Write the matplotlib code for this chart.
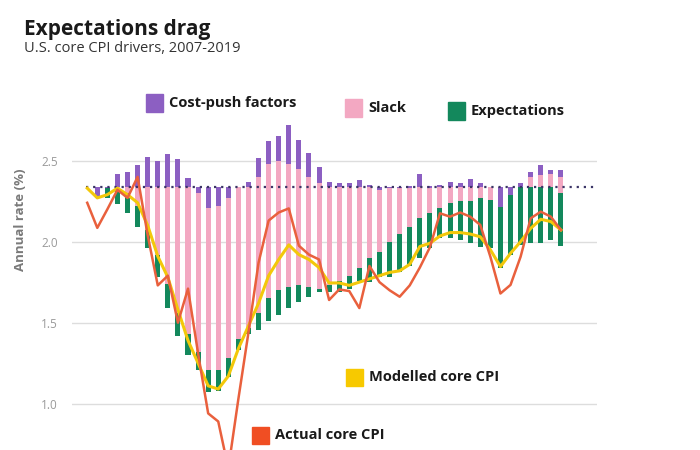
import numpy as np
import matplotlib
matplotlib.use("Agg")
import matplotlib.pyplot as plt
from matplotlib.patches import Rectangle

plt.rcParams['font.family'] = ['Open Sans', 'DejaVu Sans']

# quarterly bars, 2007-2018
baseline = 2.34

# stacked drivers: green (expectations) at bottom, pink (slack), purple (cost-push) on top
stack_bottom = [2.34, 2.27, 2.27, 2.23, 2.175, 2.09, 1.96, 1.78, 1.59, 1.42, 1.30, 1.21,
                1.075, 1.08, 1.165, 1.33, 1.43, 1.455, 1.51, 1.55, 1.59, 1.63, 1.66, 1.69,
                1.69, 1.69, 1.71, 1.76, 1.75, 1.78, 1.78, 1.815, 1.85, 1.90, 1.96, 2.02,
                2.02, 2.01, 1.99, 1.97, 1.96, 1.835, 1.92, 1.98, 1.99, 1.99, 2.01, 1.975]
expect_top = [2.34, 2.27, 2.33, 2.31, 2.30, 2.22, 2.07, 1.92, 1.74, 1.56, 1.43, 1.32,
              1.21, 1.21, 1.28, 1.40, 1.47, 1.557, 1.65, 1.70, 1.72, 1.73, 1.72, 1.71,
              1.73, 1.76, 1.79, 1.84, 1.90, 1.935, 2.00, 2.045, 2.09, 2.145, 2.175, 2.21,
              2.24, 2.25, 2.25, 2.27, 2.26, 2.216, 2.29, 2.34, 2.34, 2.34, 2.34, 2.30]
slack_top = [2.34, 2.27, 2.33, 2.34, 2.34, 2.34, 2.34, 2.34, 2.34, 2.34, 2.34, 2.30,
             2.21, 2.22, 2.27, 2.34, 2.34, 2.40, 2.48, 2.50, 2.48, 2.45, 2.40, 2.36,
             2.34, 2.34, 2.34, 2.34, 2.34, 2.32, 2.33, 2.33, 2.33, 2.34, 2.33, 2.34,
             2.34, 2.34, 2.34, 2.34, 2.34, 2.216, 2.29, 2.34, 2.40, 2.41, 2.42, 2.40]
cost_top = [2.34, 2.34, 2.34, 2.42, 2.43, 2.47, 2.525, 2.50, 2.54, 2.51, 2.39, 2.34,
            2.34, 2.34, 2.34, 2.34, 2.37, 2.515, 2.62, 2.65, 2.72, 2.63, 2.55, 2.46,
            2.37, 2.36, 2.36, 2.38, 2.35, 2.34, 2.34, 2.34, 2.345, 2.42, 2.345, 2.35,
            2.37, 2.36, 2.385, 2.36, 2.34, 2.34, 2.34, 2.365, 2.43, 2.475, 2.44, 2.445]

modelled_cpi = [2.33, 2.27, 2.29, 2.33, 2.29, 2.24, 2.10, 1.91, 1.78, 1.58, 1.39, 1.25,
                1.11, 1.09, 1.17, 1.34, 1.48, 1.62, 1.79, 1.89, 1.98, 1.92, 1.89, 1.84,
                1.745, 1.745, 1.73, 1.75, 1.77, 1.79, 1.81, 1.82, 1.86, 1.97, 1.99, 2.035,
                2.056, 2.056, 2.047, 2.03, 1.95, 1.846, 1.928, 2.0, 2.082, 2.138, 2.124, 2.072]
actual_cpi = [2.24, 2.085, 2.20, 2.32, 2.27, 2.40, 2.04, 1.73, 1.79, 1.50, 1.71, 1.31,
              0.94, 0.89, 0.60, 1.03, 1.44, 1.87, 2.13, 2.18, 2.205, 1.975, 1.92, 1.89,
              1.64, 1.705, 1.695, 1.59, 1.85, 1.75, 1.70, 1.66, 1.73, 1.84, 1.965, 2.175,
              2.154, 2.18, 2.154, 2.103, 1.907, 1.68, 1.733, 1.907, 2.144, 2.185, 2.154, 2.072]

yticks = [1.0, 1.5, 2.0, 2.5]
ytick_labels = ['1.0', '1.5', '2.0', '2.5']

c_cost = '#8c5fc2'
c_slack = '#f3a8c2'
c_expect = '#13885c'
c_model = '#f3c80a'
c_actual = '#e9603d'

x = np.arange(len(stack_bottom))
bottom = np.array(stack_bottom)
e_top = np.array(expect_top)
s_top = np.array(slack_top)
c_top = np.array(cost_top)

fig = plt.figure(figsize=(7, 4.5), dpi=100)
ax = fig.add_axes([72 / 700, 0, 525 / 700, 360 / 450])

ax.bar(x, e_top - bottom, bottom=bottom, width=0.5, color=c_expect, zorder=2)
ax.bar(x, s_top - e_top, bottom=e_top, width=0.5, color=c_slack, zorder=2)
ax.bar(x, c_top - s_top, bottom=s_top, width=0.5, color=c_cost, zorder=2)

ax.hlines(baseline, -0.1, 50.6, colors='#3b3566', linestyles=(0, (1, 2.2)), linewidth=1.6, zorder=3)

ax.plot(x, modelled_cpi, color=c_model, linewidth=2.2, zorder=4)
ax.plot(x, actual_cpi, color=c_actual, linewidth=1.8, zorder=5)

ax.set_xlim(-1.51, 50.58)
ax.set_ylim(0.714, 2.936)
ax.set_yticks(yticks)
ax.set_yticklabels(ytick_labels)
ax.set_xticks([])
ax.tick_params(axis='y', length=0, pad=10, labelsize=8.5, labelcolor='#9a9a9a')
ax.grid(axis='y', color='#dddddd', linewidth=1, zorder=0)
ax.set_axisbelow(True)
for s in ax.spines.values():
    s.set_visible(False)


def fx(px_x):
    return px_x / 700


def fy(px_y):
    return 1 - px_y / 450


fig.text(fx(24), fy(30), 'Expectations drag', fontsize=15, fontweight='bold', color='#1a1a1a', va='center')
fig.text(fx(24), fy(49), 'U.S. core CPI drivers, 2007-2019', fontsize=10.5, color='#333333', va='center')
fig.text(fx(21), fy(220), 'Annual rate (%)', fontsize=9.5, fontweight='bold', color='#7a7a7a',
         rotation=90, ha='center', va='center')

# legend keys placed on the plot
legend_items = [
    ('Cost-push factors', c_cost, 146, 103),
    ('Slack', c_slack, 345, 108),
    ('Expectations', c_expect, 448, 111),
    ('Modelled core CPI', '#f7c900', 346, 377),
    ('Actual core CPI', '#f04e23', 252, 435),
]
for label, col, lx, ly in legend_items:
    fig.add_artist(Rectangle((fx(lx), fy(ly + 8.5)), 17 / 700, 17 / 450,
                             transform=fig.transFigure, color=col, zorder=6))
    fig.text(fx(lx + 23), fy(ly), label, fontsize=10.5, fontweight='bold', color='#1a1a1a', va='center')

fig.savefig('out.png', dpi=100)
